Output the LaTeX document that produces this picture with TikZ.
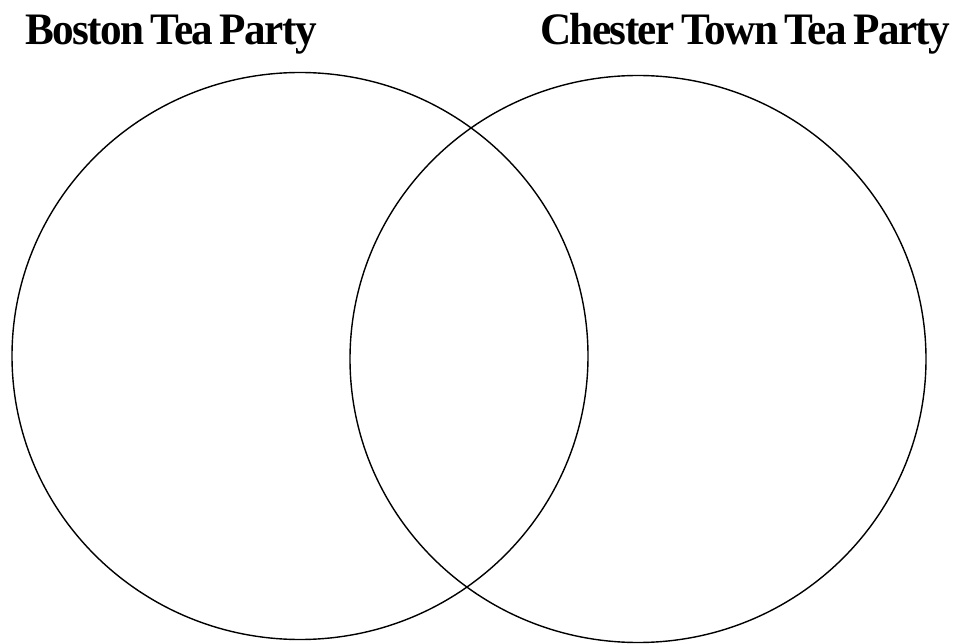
\documentclass[tikz,border=0pt]{standalone}
\usepackage{fontspec}
\newfontfamily\titlefont[FakeStretch=0.96, LetterSpace=-3.5, WordSpace=0.7]{Liberation Serif}
\usetikzlibrary{shapes.geometric, positioning}

\begin{document}
\begin{tikzpicture}[x=1pt, y=-1pt,
    setcircle/.style={draw, ellipse, line width=1.4pt, inner sep=0pt, minimum width=576pt, minimum height=567pt},
    title/.style={anchor=base west, inner sep=0pt, font=\titlefont\bfseries\fontsize{45}{50}\selectfont}]
\useasboundingbox (0,0) rectangle (961,644);
\node[setcircle] (boston) at (300,356) {};
\node[setcircle] (chester) at (638,359) {};
\node[title] (bostontitle) at (25,45) {Boston Tea Party};
\node[title] (chestertitle) at (540,45) {Chester Town Tea Party};
\end{tikzpicture}
\end{document}
